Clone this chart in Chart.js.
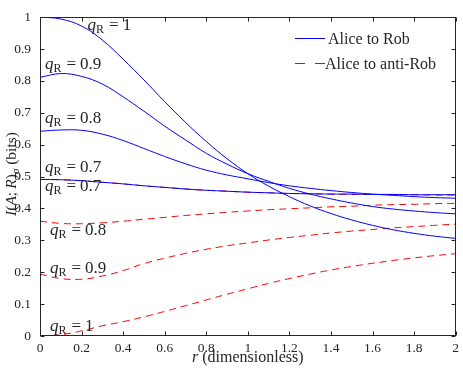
<!DOCTYPE html>
<html>
<head>
<meta charset="utf-8">
<script src="https://cdn.jsdelivr.net/npm/chart.js@4.4.1/dist/chart.umd.min.js"></script>
<style>
html,body{margin:0;padding:0;background:#fff;}
#wrap{width:463px;height:369px;}
</style>
</head>
<body>
<div id="wrap"><canvas id="c" width="463" height="369"></canvas></div>
<script>
// ---- data ----
const rValues = [0,0.1,0.2,0.3,0.4,0.5,0.6,0.7,0.8,0.9,1.0,1.1,1.2,1.3,1.4,1.5,1.6,1.7,1.8,1.9,2.0];

const robQ1   = [1.000,0.994,0.972,0.928,0.868,0.803,0.735,0.670,0.610,0.556,0.509,0.470,0.437,0.408,0.384,0.364,0.347,0.333,0.322,0.313,0.306];
const robQ09  = [0.811,0.823,0.814,0.790,0.750,0.705,0.658,0.615,0.573,0.539,0.509,0.485,0.463,0.445,0.430,0.417,0.406,0.398,0.392,0.387,0.383];
const robQ08  = [0.642,0.646,0.645,0.633,0.613,0.588,0.563,0.540,0.520,0.505,0.493,0.481,0.471,0.463,0.456,0.450,0.445,0.441,0.437,0.434,0.432];
const robQ07  = [0.491,0.490,0.487,0.482,0.477,0.471,0.466,0.461,0.457,0.454,0.451,0.449,0.447,0.446,0.445,0.445,0.444,0.444,0.443,0.443,0.443];

const antiQ07 = [0.491,0.490,0.487,0.482,0.477,0.471,0.466,0.461,0.457,0.454,0.451,0.449,0.447,0.446,0.445,0.444,0.444,0.443,0.443,0.442,0.442];
const antiQ08 = [0.360,0.353,0.352,0.355,0.360,0.366,0.372,0.378,0.383,0.388,0.392,0.396,0.399,0.402,0.405,0.407,0.410,0.412,0.413,0.415,0.416];
const antiQ09 = [0.194,0.180,0.178,0.188,0.205,0.227,0.244,0.259,0.272,0.283,0.292,0.301,0.309,0.316,0.323,0.329,0.334,0.339,0.343,0.347,0.351];
const antiQ1  = [0.000,0.004,0.016,0.032,0.045,0.060,0.077,0.095,0.113,0.131,0.148,0.165,0.180,0.194,0.207,0.218,0.228,0.237,0.245,0.252,0.258];

const xTickLabels = ['0','0.2','0.4','0.6','0.8','1','1.2','1.4','1.6','1.8','2'];
const yTickLabels = ['0','0.1','0.2','0.3','0.4','0.5','0.6','0.7','0.8','0.9','1'];

const seriesLabels = ['Alice to Rob','Alice to anti-Rob'];

// curve annotations: [q value text, r anchor, I anchor]
const annotations = [
  ['1',   0.229, 0.958],
  ['0.9', 0.024, 0.836],
  ['0.8', 0.024, 0.667],
  ['0.7', 0.024, 0.515],
  ['0.7', 0.024, 0.455],
  ['0.8', 0.048, 0.318],
  ['0.9', 0.048, 0.197],
  ['1',   0.048, 0.015]
];

// ---- build ----
const toPts = ys => rValues.map((x,i)=>({x:x,y:ys[i]}));
const BLUE = '#0000ff', RED = '#ff0000';
const solid = (ys)=>({data:toPts(ys),borderColor:BLUE,borderWidth:1,pointRadius:0,tension:0.4,fill:false});
const dashed = (ys)=>({data:toPts(ys),borderColor:RED,borderWidth:1,borderDash:[7,5],pointRadius:0,tension:0.4,fill:false});

const SERIF = '"Liberation Serif","DejaVu Serif",serif';
const TXT = '#262626';

const framePlugin = {
  id:'frame',
  afterDraw(chart){
    const ctx = chart.ctx, a = chart.chartArea;
    const xs = chart.scales.x, ys = chart.scales.y;
    ctx.save();
    ctx.strokeStyle = TXT; ctx.lineWidth = 1; ctx.setLineDash([]);
    const L = Math.round(a.left)+0.5, R = Math.round(a.right)-0.5, T = Math.round(a.top)+0.5, B = Math.round(a.bottom)-0.5;
    ctx.strokeRect(L, T, R-L, B-T);
    ctx.beginPath();
    const tl = 4;
    xTickLabels.forEach((_,i)=>{
      const px = Math.round(xs.getPixelForValue(i*0.2))+0.5;
      ctx.moveTo(px,B); ctx.lineTo(px,B-tl);
      ctx.moveTo(px,T); ctx.lineTo(px,T+tl);
    });
    yTickLabels.forEach((_,i)=>{
      const py = Math.round(ys.getPixelForValue(i*0.1))+0.5;
      ctx.moveTo(L,py); ctx.lineTo(L+tl,py);
      ctx.moveTo(R,py); ctx.lineTo(R-tl,py);
    });
    ctx.stroke();

    // annotations
    ctx.fillStyle = TXT;
    ctx.textBaseline = 'alphabetic';
    annotations.forEach(([v,rx,iy])=>{
      let x = xs.getPixelForValue(rx), y = ys.getPixelForValue(iy);
      ctx.font = 'italic 17px '+SERIF;
      ctx.fillText('q',x,y); x += ctx.measureText('q').width;
      ctx.font = '12px '+SERIF;
      ctx.fillText('R',x,y+3); x += ctx.measureText('R').width + 5;
      ctx.font = '17px '+SERIF;
      ctx.fillText('=',x,y); x += ctx.measureText('=').width + 4;
      ctx.fillText(v,x,y);
    });

    // legend
    ctx.lineWidth = 1;
    ctx.strokeStyle = BLUE;
    ctx.beginPath(); ctx.moveTo(295,38.5); ctx.lineTo(325,38.5); ctx.stroke();
    ctx.strokeStyle = RED; ctx.setLineDash([10,10]);
    ctx.beginPath(); ctx.moveTo(295,63.5); ctx.lineTo(326,63.5); ctx.stroke();
    ctx.setLineDash([]);
    ctx.font = '16px '+SERIF; ctx.fillStyle = TXT;
    ctx.fillText(seriesLabels[0], 328, 44);
    ctx.fillText(seriesLabels[1], 325, 69);

    // x title
    ctx.font = 'italic 16px '+SERIF;
    const w1 = ctx.measureText('r').width;
    ctx.font = '16px '+SERIF;
    const rest = ' (dimensionless)';
    const w2 = ctx.measureText(rest).width;
    let sx = (a.left+a.right)/2 - (w1+w2)/2;
    ctx.font = 'italic 16px '+SERIF; ctx.fillText('r',sx,362);
    ctx.font = '16px '+SERIF; ctx.fillText(rest,sx+w1,362);

    // y title (rotated)
    ctx.save();
    ctx.translate(16, 174);
    ctx.rotate(-Math.PI/2);
    const parts = [
      ['I','italic 15.5px',0],['(','15.5px',0],['A','italic 15.5px',0],[';','15.5px',0],['\u2009','15.5px',0],
      ['R','italic 15.5px',0],[')','15.5px',0],['\u03c3','italic 11px',3],[' (bits)','15.5px',0]
    ];
    let tw = 0;
    parts.forEach(p=>{ctx.font=p[1]+' '+SERIF; tw+=ctx.measureText(p[0]).width;});
    let cx = -tw/2;
    parts.forEach(p=>{ctx.font=p[1]+' '+SERIF; ctx.fillText(p[0],cx,p[2]); cx+=ctx.measureText(p[0]).width;});
    ctx.restore();
    ctx.restore();
  }
};

new Chart(document.getElementById('c'), {
  type:'line',
  data:{datasets:[solid(robQ1),solid(robQ09),solid(robQ08),solid(robQ07),
                  dashed(antiQ07),dashed(antiQ08),dashed(antiQ09),dashed(antiQ1)]},
  options:{
    responsive:false, devicePixelRatio:1, animation:false,
    layout:{autoPadding:false,padding:{top:6,right:4,left:0,bottom:0}},
    plugins:{legend:{display:false},tooltip:{enabled:false}},
    scales:{
      x:{type:'linear',min:0,max:2,
         grid:{display:false,drawTicks:false,tickLength:0},border:{display:false},
         ticks:{stepSize:0.2,padding:4,maxRotation:0,autoSkip:false,color:TXT,font:{family:SERIF,size:13.5},
                callback:(v,i)=>xTickLabels[i]},
         afterFit:s=>{s.height=33;}},
      y:{type:'linear',min:0,max:1,
         grid:{display:false,drawTicks:false,tickLength:0},border:{display:false},
         ticks:{stepSize:0.1,padding:9,autoSkip:false,color:TXT,font:{family:SERIF,size:13.5},
                callback:(v,i)=>yTickLabels[i]},
         afterFit:s=>{s.width=40;}}
    }
  },
  plugins:[framePlugin]
});
</script>
</body>
</html>
